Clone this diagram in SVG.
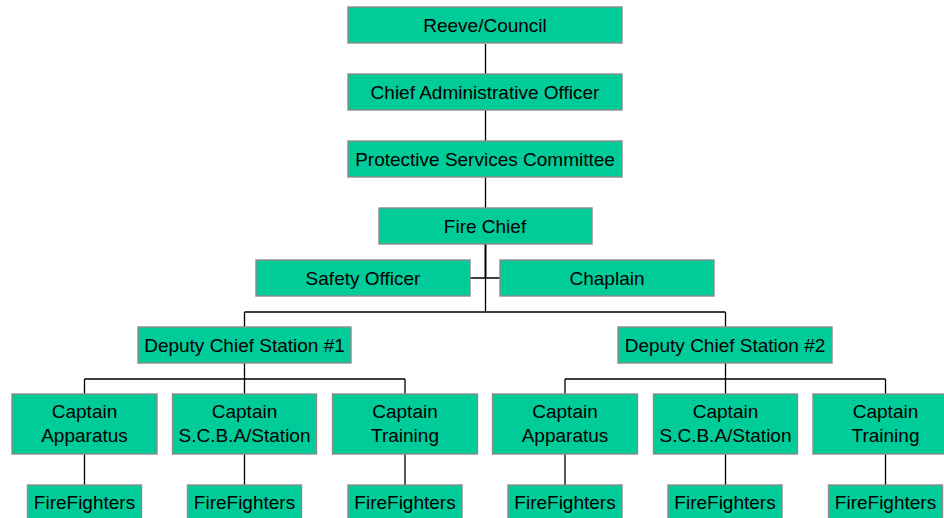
<svg xmlns="http://www.w3.org/2000/svg" width="944" height="518" viewBox="0 0 944 518">
<style>
.box{fill:#00CC99;stroke:#8c8c8c;stroke-width:1.4}
.t{font-family:"Liberation Sans",Arial,sans-serif;font-size:19px;fill:#000;text-anchor:middle}
.c{stroke:#000;stroke-width:1.3;fill:none}
</style>
<rect width="944" height="518" fill="#fff"/>
<g id="connectors">
<path class="c" d="M485.5 44V74M485.5 110V141M485.5 177V208"/>
<path class="c" style="stroke-width:2" d="M485.5 244V278"/>
<path class="c" d="M470 278H500M485.5 278V312M244.5 312H725.5M244.5 312V327M725.5 312V327"/>
<path class="c" d="M244.5 363V379M84.5 379H405M84.5 379V394M244.5 379V394M405 379V394"/>
<path class="c" d="M725.5 363V379M565 379H885.5M565 379V394M725.5 379V394M885.5 379V394"/>
<path class="c" d="M84.5 454V485M244.5 454V485M405 454V485M565 454V485M725.5 454V485M885.5 454V485"/>
</g>
<g id="reeve"><rect class="box" x="348" y="7" width="274" height="36"/><text class="t" x="485" y="31.5">Reeve/Council</text></g>
<g id="cao"><rect class="box" x="348" y="74" width="274" height="36"/><text class="t" x="485" y="98.5">Chief Administrative Officer</text></g>
<g id="psc"><rect class="box" x="348" y="141" width="274" height="36"/><text class="t" x="485" y="165.5">Protective Services Committee</text></g>
<g id="firechief"><rect class="box" x="379" y="208" width="213" height="36"/><text class="t" x="485" y="232.5">Fire Chief</text></g>
<g id="safety"><rect class="box" x="256" y="260" width="214" height="36"/><text class="t" x="363" y="284.5">Safety Officer</text></g>
<g id="chaplain"><rect class="box" x="500" y="260" width="214" height="36"/><text class="t" x="607" y="284.5">Chaplain</text></g>
<g id="deputy1"><rect class="box" x="138" y="327" width="213" height="36"/><text class="t" x="244.5" y="351.5">Deputy Chief Station #1</text></g>
<g id="deputy2"><rect class="box" x="618" y="327" width="214" height="36"/><text class="t" x="725" y="351.5">Deputy Chief Station #2</text></g>
<g id="cap1a"><rect class="box" x="12" y="394" width="145" height="60"/><text class="t" x="84.5" y="418">Captain</text><text class="t" x="84.5" y="442">Apparatus</text></g>
<g id="cap1b"><rect class="box" x="172.5" y="394" width="144" height="60"/><text class="t" x="244.5" y="418">Captain</text><text class="t" x="244.5" y="442">S.C.B.A/Station</text></g>
<g id="cap1c"><rect class="box" x="332.5" y="394" width="145" height="60"/><text class="t" x="405" y="418">Captain</text><text class="t" x="405" y="442">Training</text></g>
<g id="cap2a"><rect class="box" x="492.5" y="394" width="145" height="60"/><text class="t" x="565" y="418">Captain</text><text class="t" x="565" y="442">Apparatus</text></g>
<g id="cap2b"><rect class="box" x="653.5" y="394" width="144" height="60"/><text class="t" x="725.5" y="418">Captain</text><text class="t" x="725.5" y="442">S.C.B.A/Station</text></g>
<g id="cap2c"><rect class="box" x="813" y="394" width="145" height="60"/><text class="t" x="885.5" y="418">Captain</text><text class="t" x="885.5" y="442">Training</text></g>
<g id="ff1a"><rect class="box" x="27.5" y="485" width="114" height="38"/><text class="t" x="84.5" y="508.5">FireFighters</text></g>
<g id="ff1b"><rect class="box" x="187.5" y="485" width="114" height="38"/><text class="t" x="244.5" y="508.5">FireFighters</text></g>
<g id="ff1c"><rect class="box" x="348" y="485" width="114" height="38"/><text class="t" x="405" y="508.5">FireFighters</text></g>
<g id="ff2a"><rect class="box" x="508" y="485" width="114" height="38"/><text class="t" x="565" y="508.5">FireFighters</text></g>
<g id="ff2b"><rect class="box" x="668" y="485" width="114" height="38"/><text class="t" x="725" y="508.5">FireFighters</text></g>
<g id="ff2c"><rect class="box" x="828.5" y="485" width="114" height="38"/><text class="t" x="885.5" y="508.5">FireFighters</text></g>
</svg>
